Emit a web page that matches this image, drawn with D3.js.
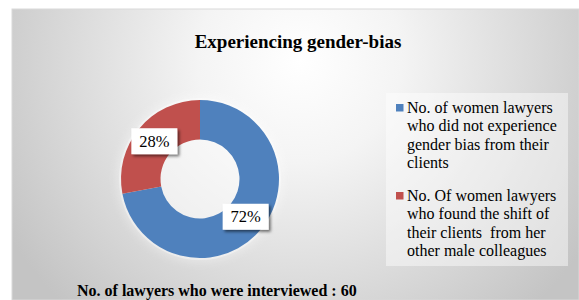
<!DOCTYPE html>
<html>
<head>
<meta charset="utf-8">
<script src="https://cdn.jsdelivr.net/npm/d3@7"></script>
<style>
  body { margin: 0; background: #fff; }
  svg { display: block; }
</style>
</head>
<body>
<svg id="chart" width="579" height="300"></svg>
<script>
// data
const categories = ["not experienced", "shift of clients"]
const values = [72, 28]
const sliceColors = ["#4f81bd", "#c0504d"]
const legendLines = [
  ["No. of women lawyers", "who did not experience", "gender bias from their", "clients"],
  ["No. Of women lawyers", "who found the shift of", "their clients  from her", "other male colleagues"]
]
const title = "Experiencing gender-bias"
const footer = "No. of lawyers who were interviewed : 60"

const svg = d3.select("#chart")
const font = "Liberation Serif"

const defs = svg.append("defs")
const grad = defs.append("radialGradient")
  .attr("id", "bg")
  .attr("gradientUnits", "userSpaceOnUse")
  .attr("cx", 300).attr("cy", 60).attr("r", 340)
grad.append("stop").attr("offset", "0%").attr("stop-color", "#ffffff")
grad.append("stop").attr("offset", "30%").attr("stop-color", "#f4f4f4")
grad.append("stop").attr("offset", "100%").attr("stop-color", "#c4c4c4")

const shadow = defs.append("filter").attr("id", "shadow")
  .attr("x", "-30%").attr("y", "-30%").attr("width", "160%").attr("height", "160%")
shadow.append("feDropShadow")
  .attr("dx", 2).attr("dy", 2).attr("stdDeviation", 1.8)
  .attr("flood-color", "#000").attr("flood-opacity", 0.55)

const glow = defs.append("filter").attr("id", "glow")
  .attr("x", "-30%").attr("y", "-30%").attr("width", "160%").attr("height", "160%")
glow.append("feDropShadow")
  .attr("dx", 0).attr("dy", 0).attr("stdDeviation", 6)
  .attr("flood-color", "#fff").attr("flood-opacity", 0.9)

// chart area
svg.append("rect")
  .attr("x", 12).attr("y", 9)
  .attr("width", 567).attr("height", 291)
  .attr("fill", "url(#bg)")
  .attr("stroke", "#d9d9d9")
  .attr("stroke-width", 1)

svg.append("text")
  .attr("x", 298).attr("y", 48)
  .attr("text-anchor", "middle")
  .attr("font-family", font)
  .attr("font-weight", "bold")
  .attr("font-size", 19)
  .attr("fill", "#000")
  .text(title)

// donut
const cx = 200, cy = 179, outerR = 79, innerR = 39.5
const pie = d3.pie().sort(null).value(d => d)
const arc = d3.arc().innerRadius(innerR).outerRadius(outerR)
const arcs = pie(values)

const g = svg.append("g").attr("transform", `translate(${cx},${cy})`)

g.append("circle")
  .attr("r", outerR + 2)
  .attr("fill", "#fff")
  .attr("opacity", 0.5)
  .attr("filter", "url(#glow)")

g.selectAll("path.slice")
  .data(arcs)
  .enter()
  .append("path")
  .attr("class", "slice")
  .attr("d", arc)
  .attr("fill", (d, i) => sliceColors[i])

const labels = g.selectAll("g.lbl")
  .data(arcs)
  .enter()
  .append("g")
  .attr("class", "lbl")
  .attr("transform", d => `translate(${arc.centroid(d)})`)

labels.append("rect")
  .attr("x", -23).attr("y", -13)
  .attr("width", 46).attr("height", 26)
  .attr("fill", "#fff")
  .attr("filter", "url(#shadow)")

labels.append("text")
  .attr("text-anchor", "middle")
  .attr("y", 5.5)
  .attr("font-family", font)
  .attr("font-size", 16.5)
  .attr("fill", "#000")
  .text(d => Math.round(d.value) + "%")

// legend
svg.append("rect")
  .attr("x", 386).attr("y", 93)
  .attr("width", 182).attr("height", 173)
  .attr("fill", "#fff")
  .attr("opacity", 0.45)

const itemY = [113, 201]
const lineH = 18.3
const legend = svg.selectAll("g.leg")
  .data(categories)
  .enter()
  .append("g")
  .attr("class", "leg")
  .attr("transform", (d, i) => `translate(0,${itemY[i]})`)

legend.append("rect")
  .attr("x", 396).attr("y", -9)
  .attr("width", 7.5).attr("height", 7.5)
  .attr("fill", (d, i) => sliceColors[i])

legend.each(function(d, i) {
  const t = d3.select(this).append("text")
    .attr("font-family", font)
    .attr("font-size", 16)
    .attr("fill", "#000")
    .attr("xml:space", "preserve")
  legendLines[i].forEach((line, j) => {
    t.append("tspan")
      .attr("x", 407)
      .attr("y", j * lineH)
      .text(line)
  })
})

svg.append("text")
  .attr("x", 77).attr("y", 296)
  .attr("font-family", font)
  .attr("font-weight", "bold")
  .attr("font-size", 16)
  .attr("fill", "#000")
  .text(footer)
</script>
</body>
</html>
